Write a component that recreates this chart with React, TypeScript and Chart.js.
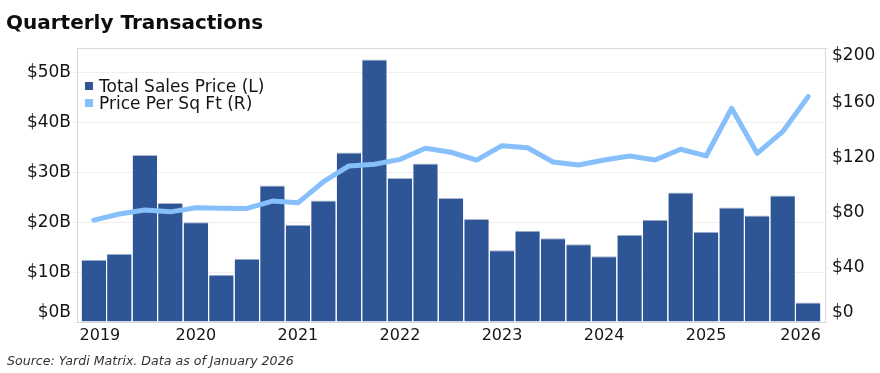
import React, { useEffect, useRef } from "react";
import { Chart, registerables } from "chart.js";

Chart.register(...registerables);

// ---- data ----
const quarters = [
  "2019 Q1", "2019 Q2", "2019 Q3", "2019 Q4",
  "2020 Q1", "2020 Q2", "2020 Q3", "2020 Q4",
  "2021 Q1", "2021 Q2", "2021 Q3", "2021 Q4",
  "2022 Q1", "2022 Q2", "2022 Q3", "2022 Q4",
  "2023 Q1", "2023 Q2", "2023 Q3", "2023 Q4",
  "2024 Q1", "2024 Q2", "2024 Q3", "2024 Q4",
  "2025 Q1", "2025 Q2", "2025 Q3", "2025 Q4",
  "2026 Q1",
];

// Total Sales Price, $ billions (left axis)
const totalSalesB = [
  12.5, 13.7, 33.5, 23.9,
  20.0, 9.5, 12.7, 27.4,
  19.5, 24.4, 34.0, 52.7,
  28.9, 31.8, 24.9, 20.7,
  14.4, 18.3, 16.8, 15.6,
  13.2, 17.5, 20.5, 26.0,
  18.1, 23.0, 21.4, 25.4,
  3.9,
];

// Price Per Sq Ft, $ (right axis)
const pricePerSqFt = [
  74.4, 78.8, 81.7, 80.4,
  83.4, 83.1, 82.9, 88.3,
  87.0, 102.4, 113.9, 115.1,
  118.7, 126.8, 123.9, 118.2,
  128.7, 127.2, 116.8, 114.6,
  118.2, 121.2, 118.2, 126.1,
  121.2, 156.0, 123.1, 138.9,
  164.5,
];

const yearLabels = ["2019", "2020", "2021", "2022", "2023", "2024", "2025", "2026"];
const leftTicks = [0, 10, 20, 30, 40, 50];
const rightTicks = [0, 40, 80, 120, 160, 200];

const seriesNames = ["Total Sales Price (L)", "Price Per Sq Ft (R)"];
const titleText = "Quarterly Transactions";
const sourceText = "Source: Yardi Matrix. Data as of January 2026";

// ---- styles ----
const BAR = "#2E5596";
const BAR_EDGE = "#a9b7d2";
const LINE = "#86BFFA";
const GRID = "#efefef";
const AXIS = "#d9d9d9";
const TEXT = "#151515";
const FONT = "'DejaVu Sans'";

const labelPlugin = {
  id: "customLabels",
  afterDraw(chart: any) {
    const ctx = chart.ctx;
    const { top, bottom, left, right } = chart.chartArea;
    ctx.save();
    // top border of plot box
    ctx.strokeStyle = AXIS;
    ctx.lineWidth = 1;
    ctx.beginPath();
    ctx.moveTo(left, Math.round(top) + 0.5);
    ctx.lineTo(right, Math.round(top) + 0.5);
    ctx.stroke();

    ctx.fillStyle = TEXT;
    ctx.font = `17px ${FONT}`;
    ctx.textBaseline = "middle";
    const clampY = (py: number) => Math.min(Math.max(py, top + 8), bottom - 9);

    const yL = chart.scales.y;
    ctx.textAlign = "right";
    leftTicks.forEach((v) => {
      ctx.fillText(`$${v}B`, left - 6, clampY(yL.getPixelForValue(v)));
    });

    const yR = chart.scales.y1;
    ctx.textAlign = "left";
    rightTicks.forEach((v) => {
      ctx.fillText(`$${v}`, right + 7, clampY(yR.getPixelForValue(v)));
    });

    // year labels
    ctx.font = `16px ${FONT}`;
    const xs = chart.scales.x;
    const minX = xs.getPixelForValue(-0.5) - 1.5;
    const maxX = xs.getPixelForValue(quarters.length - 0.5);
    ctx.textAlign = "center";
    yearLabels.forEach((label) => {
      const idx = quarters.findIndex((q) => q.startsWith(label));
      const w = ctx.measureText(label).width;
      let px = xs.getPixelForValue(idx);
      px = Math.min(Math.max(px, minX + w / 2), maxX - w / 2);
      ctx.fillText(label, px, bottom + 14);
    });

    // legend (inside plot area, top-left)
    ctx.font = `17px ${FONT}`;
    ctx.textAlign = "left";
    ctx.textBaseline = "alphabetic";
    const legendColors = [BAR, LINE];
    seriesNames.forEach((name, i) => {
      const base = 92 + i * 17;
      ctx.fillStyle = legendColors[i];
      ctx.fillRect(85, base - 10, 8, 8);
      ctx.fillStyle = TEXT;
      ctx.fillText(name, 99, base);
    });
    ctx.restore();
  },
};

export default function App() {
  const ref = useRef<HTMLCanvasElement>(null);

  useEffect(() => {
    const canvas = ref.current!;
    const chart = new Chart(canvas, {
      type: "bar",
      data: {
        datasets: [
          {
            type: "line",
            label: seriesNames[1],
            data: pricePerSqFt.map((v, i) => ({ x: i, y: v })),
            yAxisID: "y1",
            borderColor: LINE,
            backgroundColor: LINE,
            borderWidth: 5,
            pointRadius: 0,
            tension: 0,
            borderJoinStyle: "round",
            borderCapStyle: "round",
            order: 0,
          } as any,
          {
            type: "bar",
            label: seriesNames[0],
            data: totalSalesB.map((v, i) => ({ x: i, y: v })),
            yAxisID: "y",
            backgroundColor: BAR,
            borderColor: BAR_EDGE,
            borderWidth: { top: 1, left: 0, right: 0, bottom: 0 },
            borderSkipped: "start",
            categoryPercentage: 1,
            barPercentage: 0.96,
            order: 1,
          } as any,
        ],
      },
      options: {
        animation: false,
        responsive: false,
        devicePixelRatio: 1,
        layout: { padding: { top: 48, bottom: 27, left: 0, right: 0 } },
        plugins: {
          legend: { display: false },
          tooltip: { enabled: false },
        },
        scales: {
          x: {
            type: "linear",
            offset: false,
            min: -0.66,
            max: quarters.length - 1 + 0.66,
            grid: { display: false, offset: false },
            border: { display: true, color: AXIS },
            ticks: { display: false },
            afterFit: (s: any) => {
              s.height = 24;
            },
          },
          y: {
            position: "left",
            min: 0,
            max: 55,
            afterBuildTicks: (s: any) => {
              s.ticks = leftTicks.map((v) => ({ value: v }));
            },
            grid: { color: GRID, tickLength: 4, tickColor: GRID },
            border: { display: true, color: AXIS },
            ticks: { display: false },
            afterFit: (s: any) => {
              s.width = 77;
            },
          },
          y1: {
            position: "right",
            min: 0,
            max: 200,
            afterBuildTicks: (s: any) => {
              s.ticks = rightTicks.map((v) => ({ value: v }));
            },
            grid: { drawOnChartArea: false, tickLength: 4, color: GRID },
            border: { display: true, color: AXIS },
            ticks: { display: false },
            afterFit: (s: any) => {
              s.width = 55;
            },
          },
        } as any,
      },
      plugins: [labelPlugin],
    });
    return () => chart.destroy();
  }, []);

  return (
    <div
      style={{
        position: "fixed",
        left: 0,
        top: 0,
        width: 880,
        height: 373,
        background: "#fff",
        overflow: "hidden",
      }}
    >
      <canvas ref={ref} width={880} height={373} style={{ display: "block", width: 880, height: 373 }} />
      <div
        style={{
          position: "absolute",
          left: 6,
          top: 12,
          font: `bold 20px ${FONT}`,
          lineHeight: "20.5px",
          color: "#0d0d0d",
          whiteSpace: "nowrap",
        }}
      >
        {titleText}
      </div>
      <div
        style={{
          position: "absolute",
          left: 7,
          top: 354,
          font: `italic 12.6px ${FONT}`,
          lineHeight: "13px",
          color: "#333",
          whiteSpace: "nowrap",
        }}
      >
        {sourceText}
      </div>
    </div>
  );
}
